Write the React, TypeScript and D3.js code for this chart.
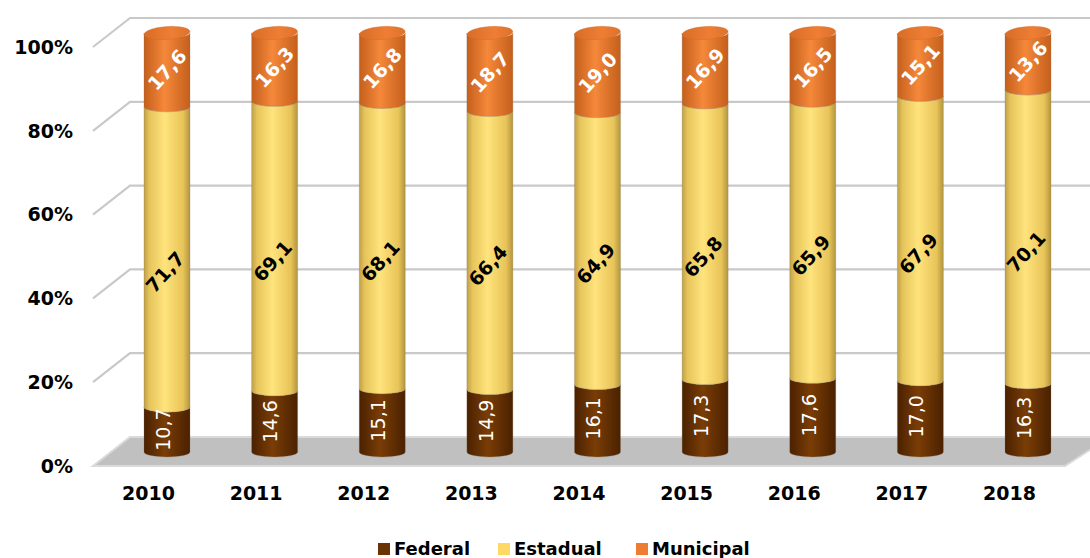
import React from 'react'
import * as d3 from 'd3'

const years = ['2010', '2011', '2012', '2013', '2014', '2015', '2016', '2017', '2018']
const federal = [10.7, 14.6, 15.1, 14.9, 16.1, 17.3, 17.6, 17.0, 16.3]
const estadual = [71.7, 69.1, 68.1, 66.4, 64.9, 65.8, 65.9, 67.9, 70.1]
const municipal = [17.6, 16.3, 16.8, 18.7, 19.0, 16.9, 16.5, 15.1, 13.6]
const ticks = [0, 20, 40, 60, 80, 100]

const seriesNames = ['Federal', 'Estadual', 'Municipal']
const legendColors = ['#6b3303', '#ffd966', '#ed7d31']

const W = 1090
const H = 558
const depthX = 37
const font = "'DejaVu Sans', Verdana, sans-serif"

const fmt = (v: number) => v.toFixed(1).replace('.', ',')

const App = () => {
  // value scale along the middle of the depth (where cylinders stand)
  const y = d3.scaleLinear().domain([0, 100]).range([452, 33])
  const yFront = (v: number) => y(v) + 14
  const yBack = (v: number) => y(v) - 15
  const x = d3.scalePoint<string>().domain(years).range([167, 1028])
  const rx = 23
  const ry = 5

  const left0 = 93
  const back0 = left0 + depthX

  const segPath = (cx: number, y0: number, y1: number) => {
    const l = cx - rx
    const r = cx + rx
    return `M${l},${y0} A${rx},${ry} 0 0 0 ${r},${y0} L${r},${y1} A${rx},${ry} 0 0 1 ${l},${y1} Z`
  }

  const stacks = years.map((yr, i) => {
    const f = federal[i]
    const e = estadual[i]
    const m = municipal[i]
    return { yr, segs: [[0, f], [f, f + e], [f + e, f + e + m]] }
  })

  return (
    <svg width={W} height={H} style={{ display: 'block', position: 'absolute', left: 0, top: 0 }}>
      <defs>
        <linearGradient id="gY" x1="0" x2="1" y1="0" y2="0">
          <stop offset="0" stopColor="#bfa047" />
          <stop offset="0.12" stopColor="#e6c55b" />
          <stop offset="0.45" stopColor="#ffe37c" />
          <stop offset="0.85" stopColor="#e8c459" />
          <stop offset="1" stopColor="#b3953f" />
        </linearGradient>
        <linearGradient id="gB" x1="0" x2="1" y1="0" y2="0">
          <stop offset="0" stopColor="#4a2100" />
          <stop offset="0.45" stopColor="#7a3d06" />
          <stop offset="1" stopColor="#4a2100" />
        </linearGradient>
        <linearGradient id="gO" x1="0" x2="1" y1="0" y2="0">
          <stop offset="0" stopColor="#c45f1c" />
          <stop offset="0.45" stopColor="#f5883a" />
          <stop offset="1" stopColor="#c45f1c" />
        </linearGradient>
        <linearGradient id="gTop" x1="0" x2="1" y1="0" y2="0">
          <stop offset="0" stopColor="#d96d26" />
          <stop offset="0.6" stopColor="#ee7e34" />
          <stop offset="1" stopColor="#e07129" />
        </linearGradient>
      </defs>

      {/* floor */}
      <polygon
        points={`${left0},${yFront(0)} ${back0},${yBack(0)} ${W + 20},${yBack(0)} ${1065},${yFront(0)}`}
        fill="#c0c0c0"
        stroke="#dadada"
        strokeWidth={2}
      />

      {/* gridlines: side wall diagonals + back wall */}
      {ticks.filter(t => t > 0).map(t => (
        <polyline
          key={t}
          points={`${left0},${yFront(t)} ${back0},${yBack(t)} ${W + 10},${yBack(t)}`}
          fill="none"
          stroke="#c9c9c9"
          strokeWidth={2.2}
        />
      ))}

      {/* axis labels */}
      {ticks.map(t => (
        <text key={t} x={73} y={yFront(t)} dy="0.36em" textAnchor="end"
          fontFamily={font} fontWeight="bold" fontSize={19} fill="#000">
          {t}%
        </text>
      ))}

      {/* cylinders */}
      {stacks.map(s => {
        const cx = x(s.yr) as number
        return (
          <g key={s.yr}>
            {s.segs.map((sg, k) => (
              <path key={k} d={segPath(cx, y(sg[0]), y(sg[1]))}
                fill={k === 0 ? 'url(#gB)' : k === 1 ? 'url(#gY)' : 'url(#gO)'}
                stroke="#8a7a60" strokeOpacity={0.35} strokeWidth={0.8} />
            ))}
            <ellipse cx={cx} cy={y(100)} rx={rx} ry={ry + 1.5} fill="url(#gTop)"
              stroke="#c9682a" strokeOpacity={0.5} strokeWidth={0.6}
              transform={`rotate(-4,${cx},${y(100)})`} />
          </g>
        )
      })}

      {/* data labels */}
      {years.map((yr, i) => {
        const cx = x(yr) as number
        const f = federal[i]
        const e = estadual[i]
        const m = municipal[i]
        const fy = y(f / 2)
        const ey = y(f + e / 2) + 15
        const my = y(f + e + m / 2)
        return (
          <g key={yr} fontFamily={font} fontSize={19}>
            <text transform={`translate(${cx - 4},${fy}) rotate(-90)`} textAnchor="middle" dy="0.36em"
              fill="#fff">{fmt(f)}</text>
            <text transform={`translate(${cx - 2},${ey}) rotate(-48)`} textAnchor="middle" dy="0.36em"
              fill="#000" fontWeight="bold">{fmt(e)}</text>
            <text transform={`translate(${cx},${my}) rotate(-48)`} textAnchor="middle" dy="0.36em"
              fill="#fff" fontWeight="bold">{fmt(m)}</text>
          </g>
        )
      })}

      {/* category labels at the front of the floor */}
      {years.map(yr => (
        <text key={yr} x={(x(yr) as number) - depthX / 2} y={500} textAnchor="middle"
          fontFamily={font} fontWeight="bold" fontSize={19} fill="#000">{yr}</text>
      ))}

      {/* legend */}
      {seriesNames.map((n, i) => {
        const lx = [378, 498, 636][i]
        return (
          <g key={n}>
            <rect x={lx} y={543} width={12} height={12} fill={legendColors[i]} />
            <text x={lx + 16} y={555} fontFamily={font} fontWeight="bold" fontSize={18} fill="#000">{n}</text>
          </g>
        )
      })}
    </svg>
  )
}

export default App
